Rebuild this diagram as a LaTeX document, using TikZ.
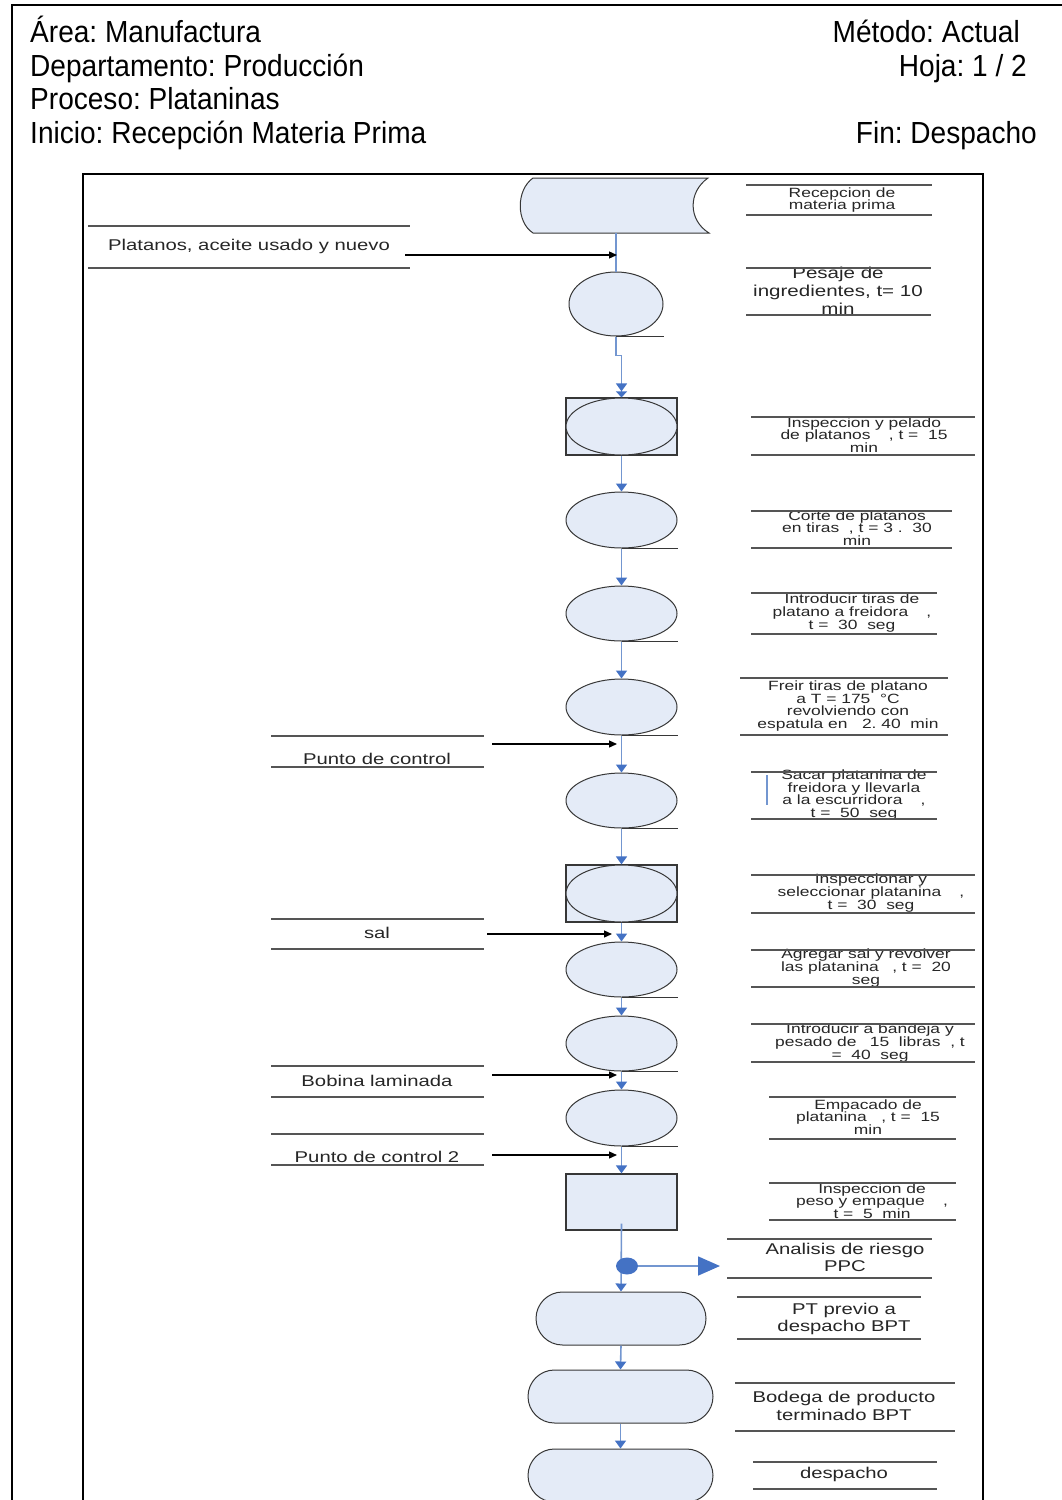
\documentclass[tikz,border=0pt]{standalone}
\usepackage{fontspec}
\setmainfont{Liberation Sans}
\newfontfamily\hdrfont[FakeStretch=0.92]{Liberation Sans}
\newfontfamily\wfont[FakeStretch=1.3]{Liberation Sans}
\usetikzlibrary{arrows.meta,shapes.geometric,shapes.misc}
\frenchspacing

\definecolor{shapefill}{RGB}{228,235,247}
\definecolor{flowline}{RGB}{115,150,208}
\definecolor{flowhead}{RGB}{68,114,196}
\definecolor{edgegray}{RGB}{55,55,55}
\definecolor{rulegray}{RGB}{85,85,85}

\tikzset{
  proc/.style={ellipse, draw=edgegray, line width=1pt, fill=shapefill, inner sep=0,
    minimum width=111pt, minimum height=56pt},
  inspbox/.style={rectangle, draw=edgegray, line width=1.2pt, fill=shapefill, inner sep=0,
    minimum width=111pt, minimum height=57pt},
  term/.style={rounded rectangle, draw=edgegray, line width=1pt, fill=shapefill, inner sep=0,
    minimum height=53pt},
  flow/.style={draw=flowline, line width=1.6pt, -{Triangle[width=11pt,length=8pt,color=flowhead]}},
  plainflow/.style={draw=flowline, line width=1.6pt},
  feed/.style={draw=black, line width=1.3pt, -{Triangle[width=7pt,length=8pt]}},
  rule/.style={draw=rulegray, line width=1.5pt},
  stub/.style={draw=edgegray, line width=1pt},
  smalllbl/.style={font=\wfont\fontsize{13.4}{12.7}\selectfont, align=center, inner sep=0, text=black!85},
  midlbl/.style={font=\wfont\fontsize{15.6}{17.5}\selectfont, align=center, inner sep=0, text=black!85},
  hdr/.style={font=\hdrfont\fontsize{30.5}{34}\selectfont, inner sep=0},
}

\begin{document}
\begin{tikzpicture}[x=1pt,y=-1pt]
\useasboundingbox (0,0) rectangle (1062,1500);

% page frames
\draw[line width=2pt] (12,1510) -- (12,5) -- (1062,5);
\draw[line width=2pt] (83,1510) -- (83,174) -- (983,174) -- (983,1510);

% header
\node[hdr, anchor=base west] (hArea) at (30,42) {Área: Manufactura};
\node[hdr, anchor=base west] (hDep) at (30,76) {Departamento: Producción};
\node[hdr, anchor=base west] (hProc) at (30,109) {Proceso: Plataninas};
\node[hdr, anchor=base west] (hIni) at (30,143) {Inicio: Recepción Materia Prima};
\node[hdr, anchor=base east] (hMet) at (1020,42) {Método: Actual};
\node[hdr, anchor=base east] (hHoja) at (1027,76) {Hoja: 1 / 2};
\node[hdr, anchor=base east] (hFin) at (1037,143) {Fin: Despacho};

% storage symbol for raw material reception
\fill[shapefill] (533,178) -- (708,178) .. controls (688,192) and (688,220) .. (709,233)
  -- (533,233) .. controls (516,222) and (516,190) .. (533,178) -- cycle;
\draw[edgegray, line width=1pt] (533,178) -- (708,178) .. controls (688,192) and (688,220) .. (709,233)
  -- (533,233) .. controls (516,222) and (516,190) .. (533,178) -- cycle;
\node[inner sep=0, minimum width=176pt, minimum height=55pt] (recep) at (616,205.5) {};

% process steps
\node[proc, minimum width=94pt, minimum height=64pt] (s2) at (616,304) {};
\node[inspbox] (s3) at (621.5,426.5) {};
\node[proc, minimum height=57pt] (s3e) at (621.5,426.5) {};
\node[proc] (s4) at (621.5,520) {};
\node[proc, minimum height=55pt] (s5) at (621.5,613.5) {};
\node[proc] (s6) at (621.5,707) {};
\node[proc, minimum height=55pt] (s7) at (621.5,800.5) {};
\node[inspbox] (s8) at (621.5,893.5) {};
\node[proc, minimum height=57pt] (s8e) at (621.5,893.5) {};
\node[proc, minimum height=55pt] (s9) at (621.5,969.5) {};
\node[proc, minimum height=55pt] (s10) at (621.5,1043.5) {};
\node[proc] (s11) at (621.5,1118) {};
\node[inspbox, minimum height=56pt] (s12) at (621.5,1202) {};
\node[term, minimum width=170pt] (s13) at (621,1318.5) {};
\node[term, minimum width=185pt] (s14) at (620.5,1396.5) {};
\node[term, minimum width=185pt] (s15) at (620.5,1475.5) {};

% short rules at the foot of the operation symbols
\foreach \n in {s2,s4,s5,s6,s7,s9,s10,s11}
  \draw[stub] (\n.south) -- (\n.south -| \n.east);

% main flow
\draw[plainflow] (recep.south) -- (s2.north);
\draw[plainflow, -{Triangle[width=11pt,length=8pt,color=flowhead] Triangle[width=11pt,length=6pt,color=flowhead]}]
  (s2.south) -- ++(0,19) -| (s3.north);
\draw[flow] (s3.south) -- (s4.north);
\draw[flow] (s4.south) -- (s5.north);
\draw[flow] (s5.south) -- (s6.north);
\draw[flow] (s6.south) -- (s7.north);
\draw[flow] (s7.south) -- (s8.north);
\draw[flow] (s8.south) -- (s9.north);
\draw[flow] (s9.south) -- (s10.north);
\draw[flow] (s10.south) -- (s11.north);
\draw[flow] (s11.south) -- (s12.north);
\draw[flow] ([yshift=7pt]s12.south) -- (s13.north);
\draw[flow] (s13.south) -- (s14.north);
\draw[flow] (s14.south) -- (s15.north);

% risk analysis branch
\node[ellipse, fill=flowhead, inner sep=0, minimum width=22pt, minimum height=17pt] (dot) at (627,1266) {};
\coordinate (riskin) at (720,1266);
\draw[draw=flowline, line width=1.6pt, -{Triangle[width=19pt,length=22pt,color=flowhead]}] (dot.east) -- (riskin);

% inputs
\coordinate (f1a) at (405,255);  \coordinate (f1b) at (617,255);
\coordinate (f2a) at (492,744);  \coordinate (f2b) at (617,744);
\coordinate (f3a) at (487,934);  \coordinate (f3b) at (612,934);
\coordinate (f4a) at (492,1075); \coordinate (f4b) at (617,1075);
\coordinate (f5a) at (492,1155); \coordinate (f5b) at (617,1155);
\draw[feed] (f1a) -- (f1b);
\draw[feed] (f2a) -- (f2b);
\draw[feed] (f3a) -- (f3b);
\draw[feed] (f4a) -- (f4b);
\draw[feed] (f5a) -- (f5b);

% input labels
\node[midlbl] (l1) at (249,246) {Platanos, aceite usado y nuevo};
\draw[rule] (88,226) -- (410,226) (88,268) -- (410,268);
\node[midlbl] (l2) at (377,759) {Punto de control};
\draw[rule] (271,736) -- (484,736) (271,767) -- (484,767);
\node[midlbl] (l3) at (377,933) {sal};
\draw[rule] (271,919) -- (484,919) (271,949) -- (484,949);
\node[midlbl] (l4) at (377,1081) {Bobina laminada};
\draw[rule] (271,1066) -- (484,1066) (271,1097) -- (484,1097);
\node[midlbl] (l5) at (377,1157) {Punto de control 2};
\draw[rule] (271,1134) -- (484,1134) (271,1165) -- (484,1165);

% step descriptions
\node[smalllbl] (r1) at (842,200) {Recepcion de\\materia prima};
\draw[rule] (746,185) -- (932,185) (746,215) -- (932,215);
\node[midlbl, font=\wfont\fontsize{15.8}{18}\selectfont] (r2) at (838,291) {Pesaje de\\ingredientes, t= 10\\min};
\draw[rule] (746,268) -- (931,268) (746,315) -- (931,315);
\node[smalllbl] (r3) at (864,435) {Inspeccion y pelado\\de platanos\quad\ , t =\ \ 15\\min};
\draw[rule] (751,417) -- (975,417) (751,455) -- (975,455);
\node[smalllbl] (r4) at (857,528) {Corte de platanos\\en tiras\ \ , t = 3 .\ \ 30\\min};
\draw[rule] (751,511) -- (952,511) (751,548) -- (952,548);
\node[smalllbl] (r5) at (852,613) {Introducir tiras de\\platano a freidora\quad\ ,\\t =\ \ 30\ \ seg};
\draw[rule] (751,593) -- (937,593) (751,634) -- (937,634);
\node[smalllbl] (r6) at (848,706) {Freir tiras de platano\\a T = 175\ \ °C\\revolviendo con\\espatula en\ \ \ 2. 40\ \ min};
\draw[rule] (740,678) -- (948,678) (740,735) -- (948,735);
\node[smalllbl] (r7) at (854,795) {Sacar platanina de\\freidora y llevarla\\a la escurridora\quad\ ,\\t =\ \ 50\ \ seg};
\draw[rule] (751,772) -- (937,772) (751,819) -- (937,819);
\draw[draw=flowline, line width=1.2pt] (767,775) -- (767,805);
\node[smalllbl] (r8) at (871,893) {Inspeccionar y\\seleccionar platanina\quad\ ,\\t =\ \ 30\ \ seg};
\draw[rule] (751,875) -- (975,875) (751,913) -- (975,913);
\node[smalllbl] (r9) at (866,968) {Agregar sal y revolver\\las platanina\quad, t =\ \ 20\\seg};
\draw[rule] (751,950) -- (975,950) (751,987) -- (975,987);
\node[smalllbl] (r10) at (870,1043) {Introducir a bandeja y\\pesado de\quad 15\ \ libras\ \ , t\\=\ \ 40\ \ seg};
\draw[rule] (751,1024) -- (975,1024) (751,1062) -- (975,1062);
\node[smalllbl] (r11) at (868,1117) {Empacado de\\platanina\ \ \ , t =\ \ 15\\min};
\draw[rule] (769,1097) -- (956,1097) (769,1139) -- (956,1139);
\node[smalllbl] (r12) at (872,1201) {Inspeccion de\\peso y empaque\quad\ ,\\t =\ \ 5\ \ min};
\draw[rule] (769,1183) -- (956,1183) (769,1220) -- (956,1220);
\node[midlbl] (r13) at (845,1257.5) {Analisis de riesgo\\PPC};
\draw[rule] (727,1239) -- (932,1239) (727,1278) -- (932,1278);
\node[midlbl] (r14) at (844,1319) {PT previo a\\despacho BPT};
\draw[rule] (737,1297) -- (921,1297) (737,1339) -- (921,1339);
\node[midlbl] (r15) at (844,1406) {Bodega de producto\\terminado BPT};
\draw[rule] (735,1383) -- (955,1383) (735,1431) -- (955,1431);
\node[midlbl] (r16) at (844,1474) {despacho};
\draw[rule] (753,1462) -- (937,1462) (753,1489) -- (937,1489);

\end{tikzpicture}
\end{document}
